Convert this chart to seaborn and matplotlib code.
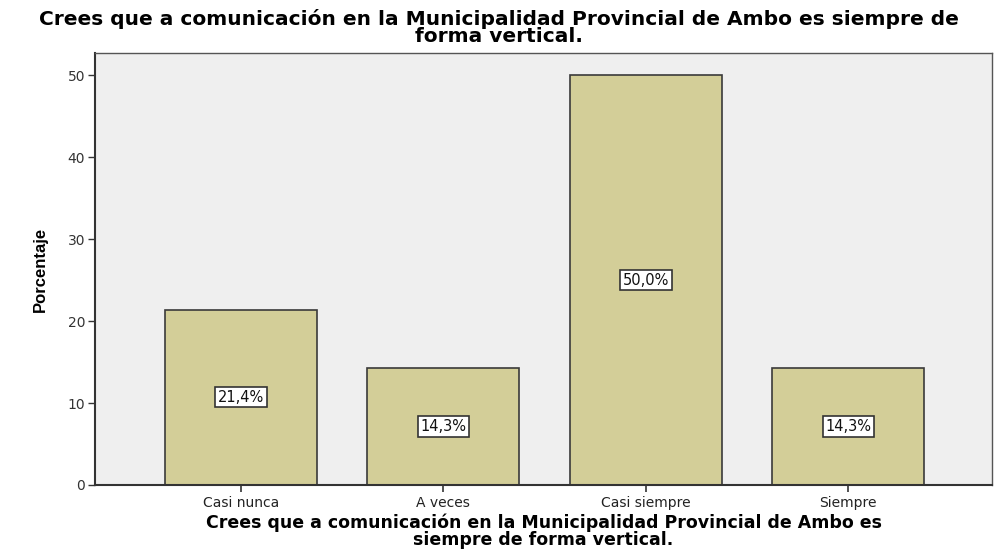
import matplotlib
matplotlib.use("Agg")
import matplotlib.pyplot as plt
import seaborn as sns
import pandas as pd

categories = ["Casi nunca", "A veces", "Casi siempre", "Siempre"]
percent = [21.4, 14.3, 50.0, 14.3]
labels = ["21,4%", "14,3%", "50,0%", "14,3%"]
yticks = [0, 10, 20, 30, 40, 50]
title = "Crees que a comunicación en la Municipalidad Provincial de Ambo es siempre de\nforma vertical."
xlabel = "Crees que a comunicación en la Municipalidad Provincial de Ambo es\nsiempre de forma vertical."
ylabel = "Porcentaje"

sns.set_style("white")
plt.rcParams['font.family'] = ['DejaVu Sans']

df = pd.DataFrame({"cat": categories, "pct": percent})

fig = plt.figure(figsize=(9.98, 5.51), dpi=100)
ax = fig.add_axes([95/998, 1-485/551, (992-95)/998, (485-53)/551])
ax.set_facecolor("#efefef")

sns.barplot(data=df, x="cat", y="pct", ax=ax, color="#d3ce98", width=0.75,
            edgecolor="#3a3a3a", linewidth=1.2, saturation=1)

for i, (v, lab) in enumerate(zip(percent, labels)):
    ax.text(i, v/2, lab, ha="center", va="center", fontsize=10.5, color="#111111",
            bbox=dict(boxstyle="square,pad=0.18", fc="white", ec="#333333", lw=1.2))

ax.set_xlim(-0.72, 3.71)
ax.set_ylim(0, 52.7)
ax.set_yticks(yticks)
ax.set_yticklabels([str(t) for t in yticks], fontsize=10, color="#333333")
ax.tick_params(axis="y", length=5, width=1, color="#333333", direction="out", left=True, pad=2)
ax.tick_params(axis="x", length=5, width=1.2, color="#333333", direction="out", bottom=True, pad=3, labelsize=10, labelcolor="#222222")

for s in ax.spines.values():
    s.set_visible(True)
    s.set_color("#555555")
    s.set_linewidth(1)
ax.spines["left"].set_color("#333333")
ax.spines["bottom"].set_color("#333333")
ax.spines["left"].set_linewidth(1.5)
ax.spines["bottom"].set_linewidth(1.5)

ax.set_ylabel(ylabel, fontsize=12, fontweight="bold", family="Liberation Sans", labelpad=14, color="black")
ax.set_xlabel(xlabel, fontsize=12.5, fontweight="bold", linespacing=0.88, va="top", color="black")
ax.xaxis.set_label_coords(0.5, (485 - 514) / 432)
fig.suptitle(title, fontsize=14.5, fontweight="bold", y=1 - 9/551, va="top", linespacing=0.9, color="black")

fig.savefig("out.png", dpi=100)
